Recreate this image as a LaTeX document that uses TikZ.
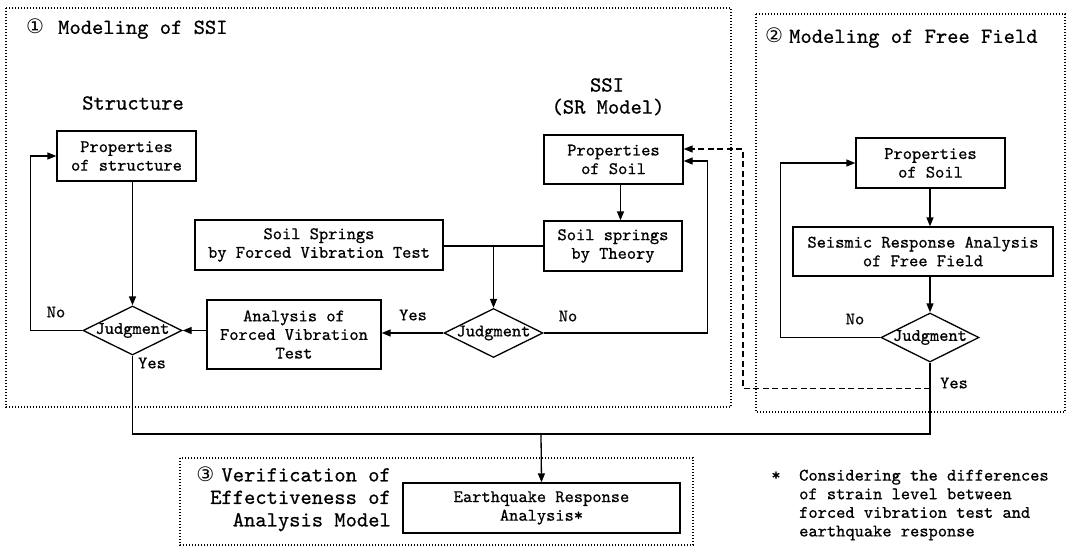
\documentclass[tikz,border=0pt]{standalone}
\usepackage{fontspec}
\usetikzlibrary{arrows.meta,shapes.geometric}
\newfontfamily\symfont{DejaVu Sans}
\newfontfamily\tfont{lmmono10-regular.otf}[FakeBold=0.7]
\newcommand\smallf{\tfont\fontsize{17.6}{18.6}\selectfont}
\newcommand\bigf{\tfont\fontsize{21.5}{22.5}\selectfont}
\begin{document}
\begin{tikzpicture}[x=1pt,y=-1pt,
  box/.style={draw,line width=1.3pt,rectangle,inner sep=0pt,align=center,font=\smallf},
  judg/.style={draw,line width=1.3pt,diamond,inner sep=0pt,minimum width=99pt,minimum height=49pt,
    label={[font=\smallf,inner sep=0pt]center:Judgment}},
  lbl/.style={inner sep=0pt,font=\smallf},
  ttl/.style={inner sep=0pt,font=\bigf},
  conn/.style={line width=1.3pt},
  arr/.style={conn,-{Triangle[length=9pt,width=7pt]}},
  dsh/.style={arr,dash pattern=on 6pt off 3.5pt},
  frame/.style={line width=1.2pt,dash pattern=on 1.2pt off 1.8pt}]
\useasboundingbox[fill=white] (0,0) rectangle (1071,549);

% group frames
\draw[frame] (6,8) rectangle (731,407);
\draw[frame] (756,14) rectangle (1065,412);
\draw[frame] (180,458) rectangle (693,545);

% titles
\node[ttl,anchor=west] (t1) at (26,29) {\makebox[32pt][l]{\symfont\fontsize{20}{20}\selectfont ①}Modeling of SSI};
\node[ttl,anchor=west] (t2) at (765,38) {\makebox[24pt][l]{\symfont\fontsize{20}{20}\selectfont ②}Modeling of Free Field};
\node[ttl,anchor=east,align=right,font=\tfont\fontsize{21.5}{22.5}\selectfont] (t3) at (391,499)
  {\makebox[25pt][l]{\symfont\fontsize{20}{20}\selectfont ③}Verification of\\Effectiveness of\\Analysis Model};
\node[ttl] (hstr) at (133,103) {Structure};
\node[ttl] (hssi1) at (607,85) {SSI};
\node[ttl] (hssi2) at (608,107) {(SR Model)};

% boxes
\node[box,minimum width=139pt,minimum height=50pt] (ps) at (126.5,156) {Properties\\of structure};
\node[box,minimum width=248pt,minimum height=50pt] (sfvt) at (319,245) {Soil Springs\\by Forced Vibration Test};
\node[box,minimum width=139pt,minimum height=49pt] (pss) at (613.5,159.5) {Properties\\of Soil};
\node[box,minimum width=138pt,minimum height=50pt] (sst) at (613,246) {Soil springs\\by Theory};
\node[box,minimum width=174pt,minimum height=69pt] (afvt) at (294,334.5) {Analysis of\\Forced Vibration\\Test};
\node[box,minimum width=149pt,minimum height=50pt] (fps) at (930.5,163) {Properties\\of Soil};
\node[box,minimum width=260pt,minimum height=49pt] (sra) at (923,251.5) {Seismic Response Analysis\\of Free Field};
\node[box,minimum width=277pt,minimum height=50pt] (eq) at (541.5,508) {Earthquake Response\\Analysis*};

% decisions
\node[judg] (j1) at (132.5,330.5) {};
\node[judg] (j2) at (493.5,333) {};
\node[judg,minimum width=98pt] (j3) at (930,337.5) {};

% labels
\node[lbl] (no1) at (56,312) {No};
\node[lbl] (yes1) at (152,363) {Yes};
\node[lbl] (yes2) at (413,315) {Yes};
\node[lbl] (no2) at (568,316) {No};
\node[lbl] (no3) at (855,319) {No};
\node[lbl] (yes3) at (954,383) {Yes};
\node[lbl] (star) at (776,476) {*};
\node[lbl,anchor=west,align=left] (note) at (799,505)
  {Considering the differences\\of strain level between\\forced vibration test and\\earthquake response};

% connectors
\draw[arr] (ps.south -| j1.north) -- (j1.north);
\draw[arr] (j1.west) -- ++(-52,0) |- (ps.west);
\draw[arr] (afvt.west |- j1.east) -- (j1.east);
\draw[arr] (j2.west) -- (afvt.east |- j2.west);
\draw[conn] (sfvt.east |- sst.west) -- (sst.west);
\draw[arr] (j2.north |- sst.west) -- (j2.north);
\draw[arr] ([xshift=7pt]pss.south) -- ([xshift=7pt]pss.south |- sst.north);
\draw[arr] (j2.east) -- ++(164,0) |- ([yshift=-1.5pt]pss.east);
\draw[dsh] ([yshift=-26pt]j3.south) -- ++(-187,0) |- ([yshift=10.5pt]pss.east);
\draw[arr] (fps.south -| j3.north) -- (sra.north -| j3.north);
\draw[arr] (sra.south -| j3.north) -- (j3.north);
\draw[arr] (j3.west) -- ++(-100,0) |- (fps.west);
\coordinate (m) at (541,434);
\draw[conn] (j1.south) |- (m);
\draw[conn] (j3.south) |- (m);
\draw[arr] (m) -- (eq.north);
\end{tikzpicture}
\end{document}
